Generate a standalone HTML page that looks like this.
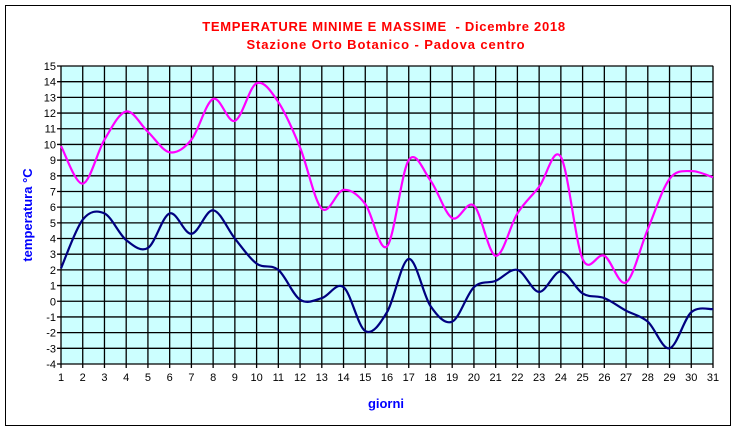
<!DOCTYPE html>
<html><head><meta charset="utf-8"><style>
body{margin:0;background:#fff}
svg text{font-family:"Liberation Sans",Arial,sans-serif}
</style></head><body>
<svg id="chart" width="736" height="430" viewBox="0 0 736 430">
<rect x="5.5" y="5.5" width="725" height="420" fill="#fff" stroke="#000"/>
<text x="384" y="31" text-anchor="middle" font-size="13" font-weight="bold" letter-spacing="0.7" fill="#ff0000">TEMPERATURE MINIME E MASSIME &#160;- Dicembre 2018</text>
<text x="386" y="49" text-anchor="middle" font-size="13" font-weight="bold" letter-spacing="0.9" fill="#ff0000">Stazione Orto Botanico - Padova centro</text>
<g id="plot"></g>
<text x="386" y="408" text-anchor="middle" font-size="13" font-weight="bold" fill="#0000ff">giorni</text>
<text transform="translate(32,215) rotate(-90)" text-anchor="middle" font-size="13" font-weight="bold" fill="#0000ff">temperatura °C</text>
</svg>
<script>
const days=[1,2,3,4,5,6,7,8,9,10,11,12,13,14,15,16,17,18,19,20,21,22,23,24,25,26,27,28,29,30,31];
const maxTemps=[9.9,7.5,10.3,12.1,10.8,9.5,10.3,12.9,11.5,13.9,12.7,9.8,5.9,7.1,6.2,3.5,9.0,7.7,5.3,6.1,2.9,5.6,7.3,9.2,2.7,2.9,1.2,4.6,7.8,8.3,7.9];
const minTemps=[2.1,5.2,5.6,3.9,3.4,5.6,4.3,5.8,4.0,2.4,2.0,0.1,0.2,0.9,-1.9,-0.7,2.7,-0.3,-1.3,0.9,1.3,2.0,0.6,1.9,0.5,0.2,-0.6,-1.3,-3.0,-0.7,-0.5];
const yTicks=[-4,-3,-2,-1,0,1,2,3,4,5,6,7,8,9,10,11,12,13,14,15];
const L=61,R=713,T=66,B=364,ymin=-4,ymax=15;
const X=d=>L+(d-1)*(R-L)/30;
const Y=v=>B-(v-ymin)*(B-T)/(ymax-ymin);
const NS='http://www.w3.org/2000/svg';
const g=document.getElementById('plot');
function mk(t,a){const e=document.createElementNS(NS,t);for(const k in a)e.setAttribute(k,a[k]);g.appendChild(e);return e;}
let bg=mk('rect',{x:L,y:T,width:R-L,height:B-T,fill:'#ccffff',stroke:'#808080'});


yTicks.forEach(v=>{
 let l=mk('line',{x1:L-4,x2:R,y1:Y(v),y2:Y(v),stroke:'#000','stroke-width':1.3});
 
 
 let t=mk('text',{x:L-5,y:Y(v)+4,'text-anchor':'end','font-size':11});
 t.textContent=v;
 
 
});
days.forEach(d=>{
 let l=mk('line',{x1:X(d),x2:X(d),y1:T,y2:B+4,stroke:'#000','stroke-width':1.3});
 
 
 let t=mk('text',{x:X(d),y:B+17,'text-anchor':'middle','font-size':11});
 t.textContent=d;
 
 
});
function spline(vals){
 const p=vals.map((v,i)=>[X(days[i]),Y(v)]);
 let s='M'+p[0][0]+','+p[0][1];
 for(let i=0;i<p.length-1;i++){
  const p0=p[Math.max(0,i-1)],p1=p[i],p2=p[i+1],p3=p[Math.min(p.length-1,i+2)];
  const c1=[p1[0]+(p2[0]-p0[0])/6,p1[1]+(p2[1]-p0[1])/6];
  const c2=[p2[0]-(p3[0]-p1[0])/6,p2[1]-(p3[1]-p1[1])/6];
  s+=` C${c1[0]},${c1[1]} ${c2[0]},${c2[1]} ${p2[0]},${p2[1]}`;
 }
 return s;
}
let mx=mk('path',{d:spline(maxTemps),fill:'none',stroke:'#ff00ff','stroke-width':2.2});


let mn=mk('path',{d:spline(minTemps),fill:'none',stroke:'#000080','stroke-width':2.2});


</script>
</body></html>
